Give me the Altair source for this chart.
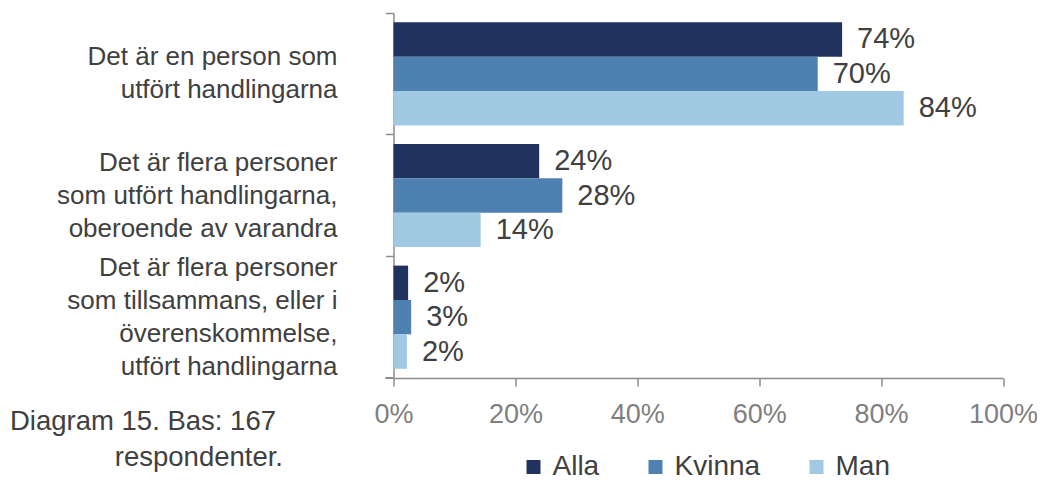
import altair as alt
import pandas as pd

categories = [
    "Det är en person som\nutfört handlingarna",
    "Det är flera personer\nsom utfört handlingarna,\noberoende av varandra",
    "Det är flera personer\nsom tillsammans, eller i\növerenskommelse,\nutfört handlingarna",
]
series = ["Alla", "Kvinna", "Man"]
alla = [73.6, 23.9, 2.4]
kvinna = [69.6, 27.7, 2.9]
man = [83.7, 14.3, 2.2]
colors = ["#21325E", "#4F80B2", "#A1C9E4"]
x_ticks = [0, 20, 40, 60, 80, 100]
note_lines = ["Diagram 15. Bas: 167", "respondenter."]

rows = []
for s, vals in zip(series, [alla, kvinna, man]):
    for c, v in zip(categories, vals):
        rows.append({"cat": c, "series": s, "value": v})
df = pd.DataFrame(rows)
cat_df = pd.DataFrame({"cat": categories})

FONT = "Liberation Sans"
TXT = "#404040"
AX = "#8c8c8c"
LINE_H = 33
W, H = 609.5, 365
HALF_BAND = H / len(categories) / 2

y_enc = alt.Y("cat:N", sort=categories, title=None,
              scale=alt.Scale(paddingInner=0, paddingOuter=0),
              axis=alt.Axis(labels=False, bandPosition=0, tickSize=8,
                            tickColor=AX, domainColor=AX,
                            domainWidth=1.5, tickWidth=1.5))
x_enc = alt.X("value:Q", title=None,
              scale=alt.Scale(domain=[0, 100], nice=False),
              axis=alt.Axis(values=x_ticks, labelExpr="datum.value + '%'",
                            grid=False, tickSize=8, labelFontSize=27,
                            labelColor="#7f7f7f", labelFont=FONT,
                            labelPadding=15, labelFlush=False,
                            tickColor=AX, domainColor=AX, domainWidth=1.5,
                            tickWidth=1.5))
off_scale = alt.Scale(paddingInner=0, paddingOuter=0.27)

bars = alt.Chart(df).mark_bar().encode(
    x=x_enc,
    y=y_enc,
    yOffset=alt.YOffset("series:N", sort=series, scale=off_scale),
    color=alt.Color("series:N", sort=series, title=None,
                    scale=alt.Scale(domain=series, range=colors),
                    legend=alt.Legend(orient="none", legendX=126, legendY=440,
                                      direction="horizontal",
                                      symbolType="square", symbolSize=196,
                                      symbolStrokeWidth=0,
                                      labelFontSize=28, labelFont=FONT,
                                      labelColor=TXT, labelOffset=5,
                                      columnPadding=42)),
)

labels = alt.Chart(df).transform_calculate(
    label="format(datum.value, '.0f') + '%'"
).mark_text(align="left", baseline="middle", dx=15, fontSize=29,
            font=FONT, color=TXT).encode(
    x="value:Q",
    y=alt.Y("cat:N", sort=categories),
    yOffset=alt.YOffset("series:N", sort=series, scale=off_scale),
    text="label:N",
)

bar_layer = alt.layer(bars, labels)

cat_text = alt.Chart(cat_df).transform_calculate(
    off=f"{HALF_BAND} - (length(split(datum.cat, '\\n')) - 1) * {LINE_H} / 2"
).mark_text(
    align="right", baseline="middle", lineBreak="\n", lineHeight=LINE_H,
    fontSize=26, font=FONT, color=TXT,
).encode(
    y=alt.Y("cat:N", sort=categories),
    yOffset=alt.YOffset("off:Q", scale=None),
    x=alt.value(-56),
    text="cat:N",
)

bottom_tick = alt.Chart(cat_df).mark_rule(color=AX, strokeWidth=1.5).encode(
    x=alt.value(-8), x2=alt.value(0), y=alt.value(H)
)

note1 = alt.Chart(pd.DataFrame({"t": [note_lines[0]]})).mark_text(
    align="left", baseline="middle", fontSize=27.5, font=FONT, color=TXT
).encode(x=alt.value(-383.5), y=alt.value(409), text="t:N")
note2 = alt.Chart(pd.DataFrame({"t": [note_lines[1]]})).mark_text(
    align="right", baseline="middle", fontSize=27.5, font=FONT, color=TXT
).encode(x=alt.value(-110.5), y=alt.value(445), text="t:N")

chart = alt.layer(bar_layer, cat_text, bottom_tick, note1, note2).resolve_scale(
    yOffset="independent"
).properties(
    width=W, height=H,
    autosize=alt.AutoSizeParams(type="none"),
    padding={"left": 385.5, "top": 5, "right": 34, "bottom": 103},
).configure_view(stroke=None)

chart.save("out.html", embed_options={"renderer": "svg", "actions": False})
